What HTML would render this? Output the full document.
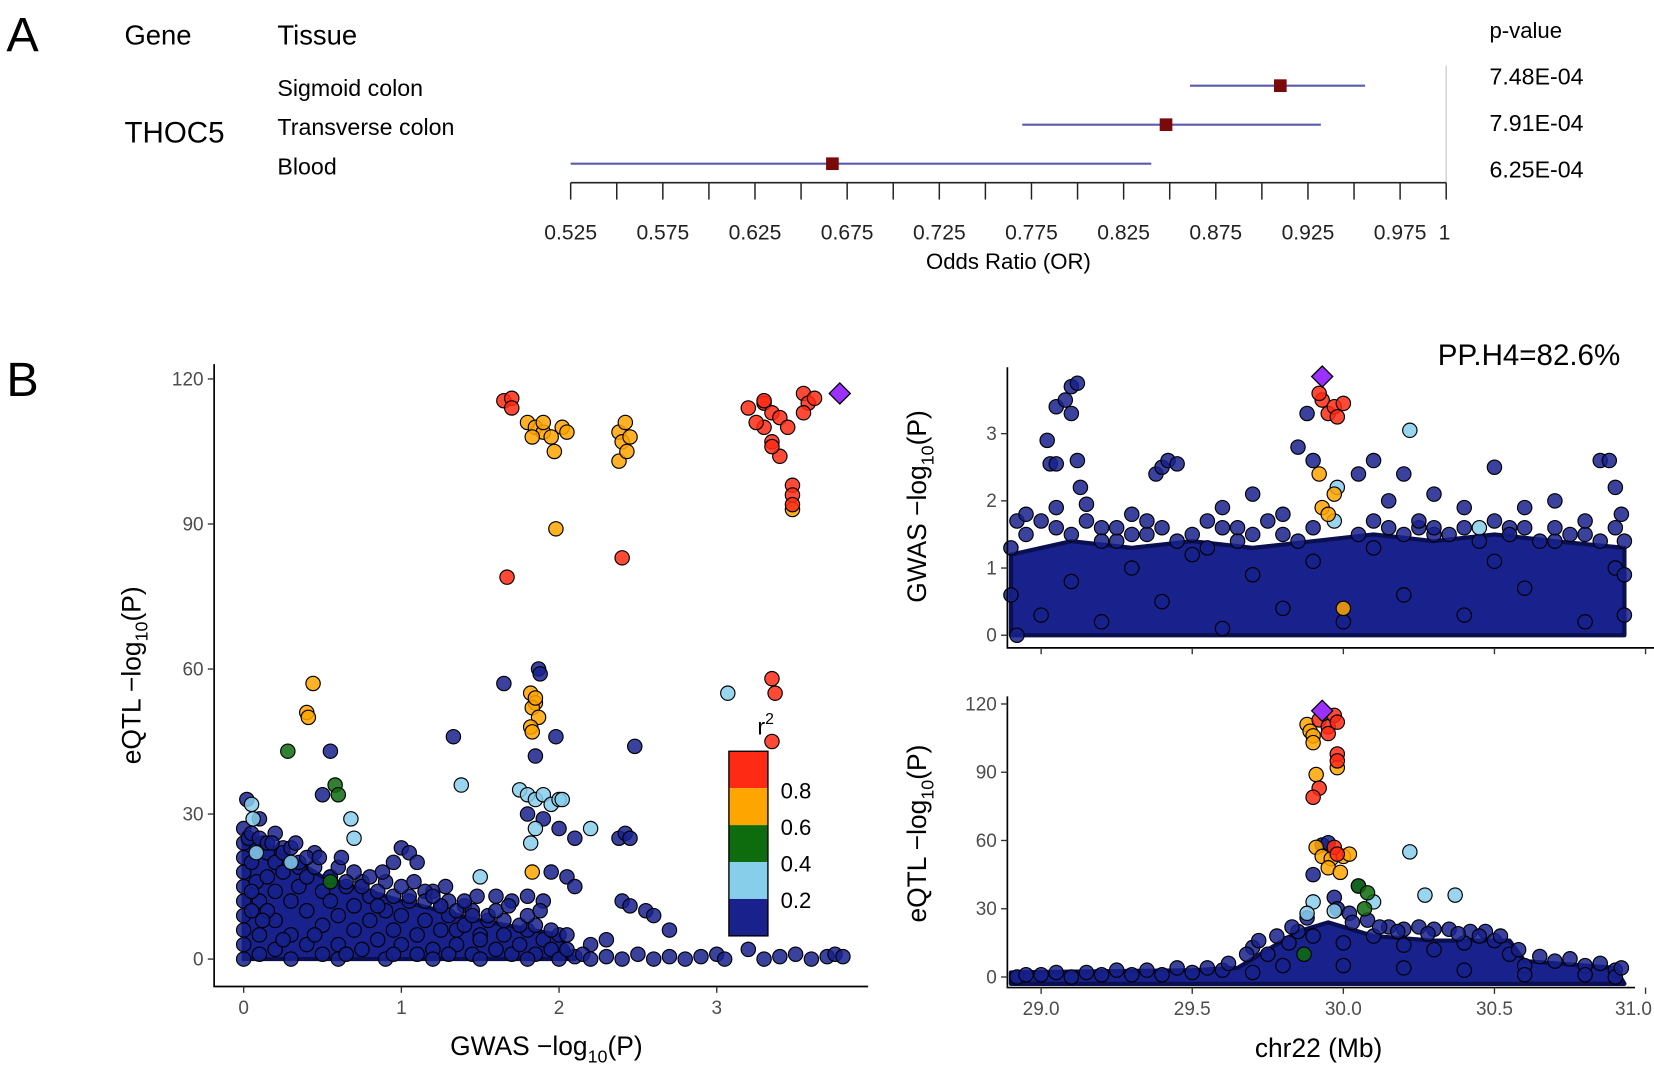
<!DOCTYPE html>
<html><head><meta charset="utf-8"><style>
html,body{margin:0;padding:0;background:#fff;}
svg{display:block;font-family:"Liberation Sans",Arial,sans-serif;}
.tk{fill:#4d4d4d;font-size:18px;}
</style></head><body>
<svg id="fig" width="1654" height="1069" viewBox="0 0 1568 1013" xmlns="http://www.w3.org/2000/svg">
<g id="pa">
<text x="6" y="48" font-size="46">A</text>
<text x="118" y="42" font-size="26">Gene</text>
<text x="263" y="42" font-size="26">Tissue</text>
<text x="1412" y="36" font-size="21">p-value</text>
<text x="118" y="135" font-size="28">THOC5</text>
<line x1="1371" y1="62" x2="1371" y2="173" stroke="#ccc" stroke-width="1.2"/>
<line x1="541" y1="173" x2="1371" y2="173" stroke="#222" stroke-width="1.5"/>
<text x="956" y="255" font-size="21" text-anchor="middle">Odds Ratio (OR)</text>
</g>
<g id="pb">
<text x="6" y="375" font-size="46">B</text>
<text x="1536" y="346" font-size="28" text-anchor="end">PP.H4=82.6%</text>
</g>
</svg>
<script>
const NS="http://www.w3.org/2000/svg";
const svg=document.getElementById('fig');
// ---- Panel A data ----
const tissues=["Sigmoid colon","Transverse colon","Blood"];
const orValues=[0.910,0.848,0.667];
const ciLow=[0.861,0.770,0.525];
const ciHigh=[0.956,0.932,0.840];
const pValues=["7.48E-04","7.91E-04","6.25E-04"];
const orTicks=[0.525,0.55,0.575,0.6,0.625,0.65,0.675,0.7,0.725,0.75,0.775,0.8,0.825,0.85,0.875,0.9,0.925,0.95,0.975,1];
const orLabels=["0.525","0.575","0.625","0.675","0.725","0.775","0.825","0.875","0.925","0.975","1"];
// ---- Panel B left scatter (GWAS, eQTL) ----
const leftRed=[[1.65,115.5],[1.7,116],[1.7,114],[3.2,114],[3.3,115],[3.35,113],[3.3,110],[3.35,107],[3.25,111],[3.4,112],[3.45,110],[3.3,115.5],[3.55,117],[3.58,115],[3.62,116],[3.55,113],[3.4,104],[3.35,106],[3.48,98],[3.48,96],[3.48,94],[1.67,79],[2.4,83],[3.35,58],[3.37,55],[3.35,45]];
const leftOrange=[[1.8,111],[1.85,110],[1.9,109],[1.95,108],[1.9,111],[1.97,105],[2.02,110],[2.05,109],[1.83,108],[2.38,109],[2.42,111],[2.4,107],[2.45,108],[2.38,103],[2.43,105],[1.98,89],[3.48,93],[0.44,57],[0.4,51],[0.41,50],[1.82,55],[1.85,53],[1.83,52],[1.87,50],[1.82,48],[1.83,47],[1.85,54],[1.83,18]];
const leftGreen=[[0.28,43],[0.58,36],[0.6,34],[0.55,16]];
const leftLightblue=[[0.05,32],[0.06,29],[0.68,29],[0.7,25],[1.38,36],[1.75,35],[1.8,34],[1.85,33],[1.9,34],[1.95,32],[2.0,33],[2.02,33],[1.82,24],[1.85,27],[2.2,27],[3.07,55],[0.3,20],[1.5,17],[0.08,22]];
const leftNavy=[[1.65,57],[1.87,60],[1.88,59],[1.98,46],[1.85,42],[0.55,43],[0.5,34],[1.33,46],[2.48,44],[1.8,30],[1.9,29],[2.0,27],[2.1,25],[2.38,25],[2.42,26],[2.45,25],[1.95,18],[2.05,17],[2.1,15],[1.6,13],[1.7,12],[1.8,13],[1.9,12],[2.55,10],[2.6,9],[2.4,12],[2.45,11],[2.7,6],[2.3,4],[2.2,3],[1.0,23],[1.05,22],[1.1,20],[0.95,20],[0.9,16],[1.2,14],[1.3,12],[1.4,11],[1.45,10],[1.35,6],[1.5,5],
[2.1,0.5],[2.15,1],[2.2,0],[2.3,0.5],[2.4,0],[2.5,1],[2.6,0],[2.7,0.5],[2.8,0],[2.9,0.5],[3.0,1],[3.05,0],[3.2,2],[3.3,0],[3.4,0.5],[3.5,1],[3.6,0],[3.7,0.5],[3.75,1],[3.8,0.5],
[0,0],[0,3],[0,6],[0,9],[0,12],[0,15],[0,18],[0,21],[0,24],[0,27],[0.03,25],[0.05,20],[0.08,16],[0.1,12],[0.1,5],[0.12,24],[0.15,22],[0.2,20],[0.2,14],[0.2,8],[0.2,2],[0.25,18],[0.3,12],[0.3,5],[0.35,15],[0.4,10],[0.4,3],[0.45,22],[0.5,14],[0.5,7],[0.5,1],[0.55,12],[0.6,9],[0.6,3],[0.65,15],[0.7,6],[0.7,11],[0.75,2],[0.8,8],[0.8,13],[0.85,4],[0.9,10],[0.95,6],[1.0,3],[1.0,9],[1.05,12],[1.1,5],[1.15,8],[1.2,2],[1.25,6],[1.3,9],[1.35,3],[1.4,7],[1.45,1],[1.5,4],[1.55,8],[1.6,2],[1.65,5],[1.7,1],[1.75,3],[1.8,6],[1.85,1],[1.9,4],[1.95,2],[2.0,0],[2.0,5],[2.05,2],[0.1,1],[0.3,0],[0.6,0],[0.9,0],[1.2,0],[1.5,0],[1.8,0],[0.15,10],[0.25,4],[0.45,5],[0.65,1],[0.95,1],[1.1,1],[1.3,1],[0.35,19],[0.55,17],[0.75,16],[0.25,23],[0.15,17],[0.05,10],[0.05,14],[0.12,8],[0.4,17],[0.7,18],[0.85,11],[1.15,14],[1.25,11],
[0.05,26],[0.1,25],[0.15,24],[0.25,22],[0.35,20],[0.45,19],[0.55,17],[0.65,16],[0.75,15],[0.85,14],[0.95,13],[1.05,13],[1.15,12],[1.25,11],[1.35,10],[1.45,9],[1.55,9],[1.65,8],[1.75,7],[1.85,7],[1.95,6],[2.05,5],[0.2,26],[0.3,23],[0.4,21],[0.6,19],[0.8,17],[1.0,15],[1.2,13],[1.4,12],[1.6,10],[1.8,9],[0.02,33],[0.1,29],[0.18,24],[0.33,24],[0.48,21],[0.62,21],[0.88,18],[1.08,16],[1.28,15],[1.48,13],[1.68,11],[1.88,10]];
const leftDensityBand=[[0,0],[0,26],[0.2,23],[0.5,17],[1,12],[1.5,8],[2,5],[2.1,0]];
const leadSnpLeft=[3.78,117];
const leftXTicks=[0,1,2,3];
const leftYTicks=[0,30,60,90,120];
// ---- Panel B top right (position, GWAS) ----
const gwasRed=[[29.93,3.5],[29.95,3.3],[29.97,3.4],[30.0,3.45],[29.92,3.6],[29.98,3.25]];
const gwasOrange=[[29.92,2.4],[29.93,1.9],[29.95,1.8],[29.97,2.1],[30.0,0.4]];
const gwasLightblue=[[30.22,3.05],[29.98,2.2],[30.45,1.6],[29.97,1.7]];
const gwasNavy=[[29.05,3.4],[29.1,3.7],[29.12,3.75],[29.08,3.5],[29.1,3.3],[29.02,2.9],[29.03,2.55],[29.05,2.55],[29.12,2.6],[29.13,2.2],[29.15,1.95],[29.2,1.6],[29.38,2.4],[29.4,2.5],[29.42,2.6],[29.45,2.55],[29.3,1.8],[29.55,1.7],[29.6,1.9],[29.7,2.1],[29.8,1.8],[29.85,2.8],[29.88,3.3],[29.9,2.6],[30.05,2.4],[30.1,2.6],[30.15,2.0],[30.2,2.4],[30.3,2.1],[30.4,1.9],[30.5,2.5],[30.6,1.9],[30.7,2.0],[30.85,2.6],[30.88,2.6],[30.9,2.2],[30.92,1.8],[28.92,1.7],[28.95,1.5],[29.25,1.4],
[28.92,0],[29.0,0.3],[29.1,0.8],[29.2,0.2],[29.3,1.0],[29.4,0.5],[29.5,1.2],[29.6,0.1],[29.7,0.9],[29.8,0.4],[29.9,1.1],[30.0,0.2],[30.1,1.3],[30.2,0.6],[30.3,1.5],[30.4,0.3],[30.5,1.1],[30.6,0.7],[30.7,1.4],[30.8,0.2],[30.9,1.0],[30.93,0.3],[29.05,1.6],[29.35,1.5],[29.65,1.6],[30.25,1.6],[30.55,1.6],[30.8,1.5],
[28.9,1.3],[28.95,1.8],[29.0,1.7],[29.05,1.9],[29.1,1.5],[29.15,1.7],[29.2,1.4],[29.25,1.6],[29.3,1.5],[29.35,1.7],[29.4,1.6],[29.45,1.4],[29.5,1.5],[29.55,1.3],[29.6,1.6],[29.65,1.4],[29.7,1.5],[29.75,1.7],[29.8,1.5],[29.85,1.4],[29.9,1.6],[30.05,1.5],[30.1,1.7],[30.15,1.6],[30.2,1.5],[30.25,1.7],[30.3,1.6],[30.35,1.5],[30.4,1.6],[30.45,1.4],[30.5,1.7],[30.55,1.5],[30.6,1.6],[30.65,1.4],[30.7,1.6],[30.75,1.5],[30.8,1.7],[30.85,1.4],[30.9,1.6],[30.93,1.4],[30.93,0.9],[28.9,0.6]];
const gwasDensityBand=[[28.9,0],[28.9,1.2],[29.1,1.4],[29.3,1.3],[29.5,1.4],[29.7,1.3],[29.9,1.4],[30.1,1.5],[30.3,1.4],[30.5,1.5],[30.7,1.4],[30.93,1.3],[30.93,0]];
const leadSnpGwas=[29.93,3.85];
const posTicks=[29.0,29.5,30.0,30.5,31.0];
const gwasYTicks=[0,1,2,3];
// ---- Panel B bottom right (position, eQTL) ----
const eqRed=[[29.92,113],[29.95,110],[29.97,115],[29.98,112],[29.95,107],[29.98,98],[29.98,95],[29.92,83],[29.9,79],[29.97,57],[29.98,54]];
const eqOrange=[[29.88,111],[29.89,108],[29.9,106],[29.9,103],[29.91,89],[29.98,92],[29.91,57],[29.93,53],[29.96,52],[30.0,53],[30.02,54],[29.95,48],[29.99,46]];
const eqGreen=[[30.05,40],[30.08,37],[30.07,30],[29.87,10]];
const eqLightblue=[[30.22,55],[30.27,36],[30.37,36],[29.9,33],[29.88,28],[29.97,29],[30.1,33]];
const eqNavy=[[29.93,58],[29.95,59],[29.9,45],[30.05,40],[29.97,35],[29.98,30],[30.02,28],[30.08,25],[30.15,22],[30.2,21],[30.25,22],[30.3,21],[30.35,21],[30.42,20],[30.47,20],[29.82,15],[29.75,10],[29.7,13],[29.85,20],[29.9,18],[30.0,15],[30.1,18],[30.2,14],[30.3,12],[30.4,15],[30.5,16],[30.55,10],[30.6,5],[30.7,7],[30.8,5],[30.9,3],[29.6,3],[29.5,2],[29.4,1],[29.3,1],[29.2,1],[29.1,0],[29.0,1],[28.92,0],[29.7,2],[29.8,5],[30.0,5],[30.2,4],[30.4,3],[30.6,1],[30.8,1],[30.9,0],
[28.95,1],[29.05,2],[29.15,2],[29.25,3],[29.35,3],[29.45,4],[29.55,4],[29.62,6],[29.68,10],[29.72,16],[29.78,18],[29.83,22],[29.88,26],[30.03,24],[30.12,22],[30.18,20],[30.28,19],[30.38,19],[30.45,18],[30.52,18],[30.58,12],[30.65,9],[30.75,8],[30.85,6],[30.92,4]];
const eqDensityBand=[[28.9,-3],[28.9,2],[29.5,3],[29.65,4],[29.75,12],[29.85,20],[29.95,24],[30.1,18],[30.3,16],[30.55,16],[30.6,7],[30.9,4],[30.93,-3]];
const leadSnpEq=[29.93,117];
const eqYTicks=[0,30,60,90,120];
const r2Labels=["0.8","0.6","0.4","0.2"];

const COL={red:"#ff2a14",orange:"#ffa500",green:"#0e6b0e",lb:"#87ceeb",navy:"#18218c",purple:"#9b30ff"};
const orX=v=>541+(v-0.525)/(1-0.525)*830;
const lx=v=>231+v*149.5, ly=v=>909-v*4.583;
const px=v=>987+(v-29)*286.5;
const gy=v=>602-v*63.7;
const ey=v=>926-v*2.157;

function el(tag,attrs,parent){const e=document.createElementNS(NS,tag);for(const k in attrs)e.setAttribute(k,attrs[k]);(parent||svg).appendChild(e);return e;}
function txt(x,y,s,attrs,parent){const t=el('text',Object.assign({x:x,y:y},attrs),parent);t.textContent=s;return t;}

const pa=document.getElementById('pa');
const rowY=[83,120,157];
tissues.forEach((t,i)=>{
 const tt=txt(263,rowY[i]+8,t,{'font-size':22},pa);
 
 
 const ci=el('line',{x1:orX(ciLow[i]),x2:orX(ciHigh[i]),y1:rowY[i]-2,y2:rowY[i]-2,stroke:'#5a5ab0','stroke-width':2},pa);
 
 
 const sq=el('rect',{x:orX(orValues[i])-6,y:rowY[i]-8,width:12,height:12,fill:'#7a0a0a'},pa);
 
 
 const pv=txt(1412,[80,124,168][i],pValues[i],{'font-size':22},pa);
 
 
});
orTicks.forEach(v=>{const l=el('line',{x1:orX(v),x2:orX(v),y1:173,y2:189,stroke:'#222','stroke-width':1.4},pa);
 
 });
orLabels.forEach(s=>{const v=parseFloat(s);const t=txt(orX(v),227,s,{'font-size':20,'text-anchor':v===1?'end':'middle',fill:'#222'},pa);
 if(v===1)t.setAttribute('x',orX(v)+4);
 
 });

const pb=document.getElementById('pb');
function pts(arr,fx,fy,fill,name,g,op){arr.forEach(p=>{const c=el('circle',{cx:fx(p[0]),cy:fy(p[1]),r:6.8,fill:fill,stroke:'#000','stroke-width':1.1,'fill-opacity':op||0.85},g);
 
 });}
function band(arr,fx,fy,g){const b=el('polygon',{points:arr.map(p=>fx(p[0])+','+fy(p[1])).join(' '),fill:COL.navy,stroke:'#0a0f50','stroke-width':4,'stroke-linejoin':'round'},g);
 
 }
function diamond(p,fx,fy,g){const x=fx(p[0]),y=fy(p[1]);const d=el('polygon',{points:`${x},${y-10} ${x+10},${y} ${x},${y+10} ${x-10},${y}`,fill:COL.purple,stroke:'#000','stroke-width':1.2},g);
 
 }
function axes(g,x0,x1,y0,y1){const a=el('polyline',{points:`${x0},${y0} ${x0},${y1} ${x1},${y1}`,fill:'none',stroke:'#000','stroke-width':1.6},g);
 
 }
function yTicks(g,ticks,fy,x0){ticks.forEach(v=>{const l=el('line',{x1:x0-6,x2:x0,y1:fy(v),y2:fy(v),stroke:'#333','stroke-width':1.3},g);
 
 
 const t=txt(x0-10,fy(v)+6,String(v),{'class':'tk','text-anchor':'end'},g);
 
 });}
function xTicks(g,ticks,fx,y0,fmt,show){ticks.forEach((v,i)=>{const l=el('line',{x1:fx(v),x2:fx(v),y1:y0,y2:y0+6,stroke:'#333','stroke-width':1.3},g);
 
 
 if(show){const last=fx(v)+18>1568;const t=txt(last?1566:fx(v),y0+26,fmt(v),{'class':'tk','text-anchor':last?'end':'middle'},g);
 
 }});}
function ytitle(g,x,y,main,name){const t=el('text',{transform:`translate(${x},${y}) rotate(-90)`,'font-size':25,'text-anchor':'middle'},g);
 t.innerHTML=main+' −log<tspan font-size="17" dy="7">10</tspan><tspan dy="-7">(P)</tspan>';
 
 }

const gL=el('g',{},pb);


band(leftDensityBand,lx,ly,gL);
pts(leftNavy,lx,ly,COL.navy,'point-r2-low',gL);
pts(leftLightblue,lx,ly,COL.lb,'point-r2-0-4',gL);
pts(leftGreen,lx,ly,COL.green,'point-r2-0-5',gL);
pts(leftOrange,lx,ly,COL.orange,'point-r2-0-7',gL);
pts(leftRed,lx,ly,COL.red,'point-r2-0-9',gL);
diamond(leadSnpLeft,lx,ly,gL);
axes(gL,203,823,345,935);
yTicks(gL,leftYTicks,ly,203);
xTicks(gL,leftXTicks,lx,935,v=>String(v),true);
const xt=el('text',{x:518,y:1000,'font-size':25,'text-anchor':'middle'},gL);
xt.innerHTML='GWAS −log<tspan font-size="17" dy="7">10</tspan><tspan dy="-7">(P)</tspan>';


ytitle(gL,133,640,'eQTL','y-axis-title');
const lg=el('g',{},gL);


const r2t=el('text',{x:718,y:696,'font-size':22},lg);
r2t.innerHTML='r<tspan font-size="15" dy="-10">2</tspan>';


[COL.red,COL.orange,COL.green,COL.lb,COL.navy].forEach((c,i)=>{const r=el('rect',{x:691,y:712+i*35,width:37,height:35,fill:c},lg);
 
 });
const lb=el('rect',{x:691,y:712,width:37,height:175,fill:'none',stroke:'#000','stroke-width':1.3},lg);


r2Labels.forEach((s,i)=>{const t=txt(740,757+i*34.5,s,{'font-size':21},lg);
 
 });

const gT=el('g',{},pb);


band(gwasDensityBand,px,gy,gT);
pts(gwasNavy,px,gy,COL.navy,'point-r2-low',gT);
pts(gwasLightblue,px,gy,COL.lb,'point-r2-0-4',gT);
pts(gwasOrange,px,gy,COL.orange,'point-r2-0-7',gT);
pts(gwasRed,px,gy,COL.red,'point-r2-0-9',gT);
diamond(leadSnpGwas,px,gy,gT);
axes(gT,955,1568,348,614);
yTicks(gT,gwasYTicks,gy,955);
xTicks(gT,posTicks,px,614,v=>v.toFixed(1),false);
ytitle(gT,878,480,'GWAS','gwas-y-axis-title');

const gB=el('g',{},pb);


band(eqDensityBand,px,ey,gB);
pts(eqNavy,px,ey,COL.navy,'point-r2-low',gB);
pts(eqLightblue,px,ey,COL.lb,'point-r2-0-4',gB);
pts(eqGreen,px,ey,COL.green,'point-r2-0-5',gB);
pts(eqOrange,px,ey,COL.orange,'point-r2-0-7',gB);
pts(eqRed,px,ey,COL.red,'point-r2-0-9',gB);
diamond(leadSnpEq,px,ey,gB);
axes(gB,955,1550,660,936);
yTicks(gB,eqYTicks,ey,955);
xTicks(gB,posTicks,px,936,v=>v.toFixed(1),true);
const xt2=txt(1250,1002,'chr22 (Mb)',{'font-size':25,'text-anchor':'middle'},gB);


ytitle(gB,878,790,'eQTL','eqtl-y-axis-title');
</script>
</body></html>
